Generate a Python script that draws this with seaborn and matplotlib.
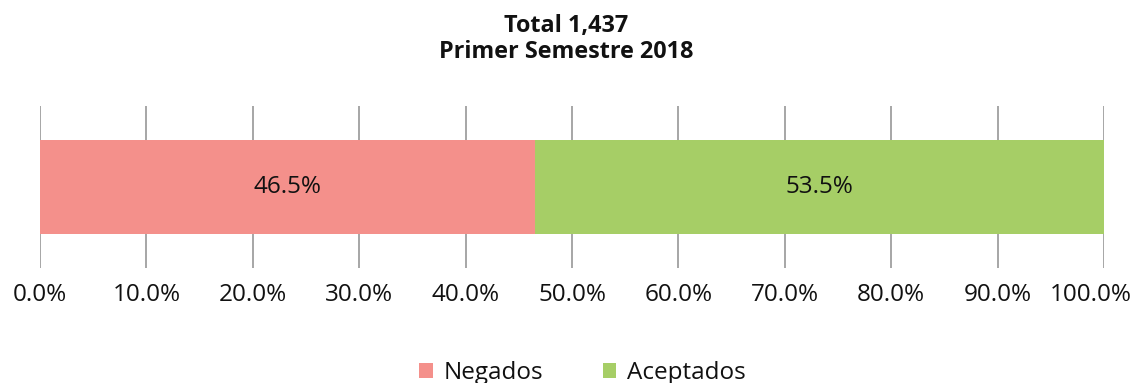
import matplotlib
matplotlib.use("Agg")
import matplotlib.pyplot as plt
import matplotlib.patches as mpatches
import matplotlib.transforms as mtransforms
import seaborn as sns
import pandas as pd
import numpy as np

categories = ["Negados", "Aceptados"]
percentages = [46.5, 53.5]
colors = ["#F4908B", "#A6CE66"]
title_lines = ["Total 1,437", "Primer Semestre 2018"]
ticks = [0, 10, 20, 30, 40, 50, 60, 70, 80, 90, 100]

sns.set_theme(style="white")
plt.rcParams["font.family"] = ["Open Sans", "DejaVu Sans"]

fig = plt.figure(figsize=(11.33, 3.83), dpi=100)
ax = fig.add_axes([40 / 1133, 1 - 268 / 383, 1064 / 1133, 162 / 383])

# stacked horizontal bar: draw cumulative totals from the last segment backwards
cum = np.cumsum(percentages)
row = "2018"
for i in range(len(categories) - 1, -1, -1):
    df = pd.DataFrame({"fila": [row], "valor": [cum[i]]})
    sns.barplot(data=df, x="valor", y="fila", orient="h", color=colors[i],
                width=0.586, saturation=1, linewidth=0, ax=ax, zorder=3)

starts = np.concatenate([[0], cum[:-1]])
for s, p in zip(starts, percentages):
    ax.text(s + p / 2, 0, f"{p:.1f}%", ha="center", va="center",
            fontsize=17.5, color="#111111", zorder=4)

ax.set_xlim(0, 100)
ax.set_ylim(0.5, -0.5)
ax.set_xticks(ticks)
ax.set_xticklabels([f"{t:.1f}%" for t in ticks], fontsize=17.5, color="#111111")
ax.set_yticks([])
ax.set_xlabel("")
ax.set_ylabel("")
ax.tick_params(axis="x", length=0, pad=11)
ax.grid(axis="x", color="#A6A6A6", linewidth=1.4, zorder=0)
ax.set_axisbelow(True)
for sp in ax.spines.values():
    sp.set_visible(False)

# keep the last tick label inside the figure
last = ax.get_xticklabels()[-1]
last.set_transform(last.get_transform() +
                   mtransforms.ScaledTranslation(-13 / 100, 0, fig.dpi_scale_trans))

fig.text(0.5, 1 - 32 / 383, title_lines[0], ha="center", va="baseline",
         fontsize=16.8, fontweight="bold", color="#111111")
fig.text(0.5, 1 - 58 / 383, title_lines[1], ha="center", va="baseline",
         fontsize=16.8, fontweight="bold", color="#111111")

handles = [mpatches.Patch(color=c, label=l, linewidth=0) for c, l in zip(colors, categories)]
fig.legend(handles=handles, loc="center", bbox_to_anchor=(582.5 / 1133, 1 - 373 / 383),
           ncol=2, frameon=False, fontsize=17.5, handlelength=0.55, handleheight=0.55,
           handletextpad=0.45, columnspacing=2.45, labelcolor="#111111",
           borderpad=0, borderaxespad=0)

fig.savefig("out.png", dpi=100)
